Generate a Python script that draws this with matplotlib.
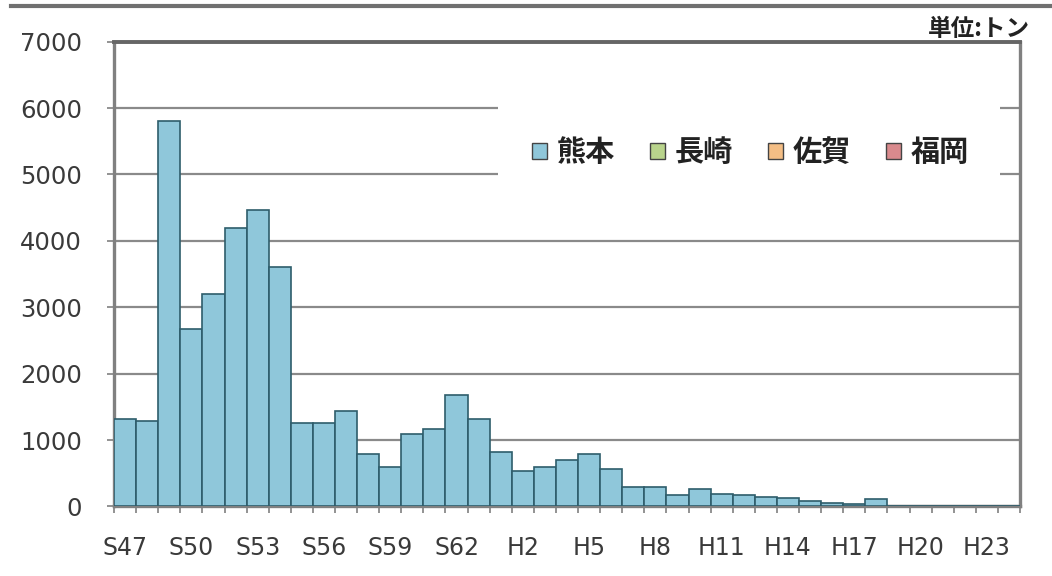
import matplotlib
matplotlib.use("Agg")
import matplotlib.pyplot as plt
from matplotlib.patches import Patch, Rectangle
from matplotlib.lines import Line2D

plt.rcParams['font.family'] = ['DejaVu Sans', 'Noto Sans CJK JP']

# 年度 (S47 〜 H24)
years = (["S%d" % y for y in range(47, 64)] +
         ["H%d" % y for y in range(1, 25)])

# 熊本 (トン)
kumamoto = [1310, 1280, 5810, 2670, 3200, 4190, 4465, 3600, 1253, 1253,
            1438, 791, 600, 1092, 1163, 1684, 1313, 821, 540, 600,
            695, 790, 570, 290, 290, 173, 259, 183, 173, 143,
            133, 83, 48, 40, 108, 0, 0, 0, 0, 0, 0]

prefs = ["熊本", "長崎", "佐賀", "福岡"]
colors = ["#8fc7da", "#b9d48c", "#f4be85", "#d98a8d"]

fig = plt.figure(figsize=(10.52, 5.76), dpi=100)
ax = fig.add_axes([0.1084, 0.1207, 0.8612, 0.8069])

x = list(range(len(years)))
ax.bar(x, kumamoto, width=1.0, color=colors[0], edgecolor="#2e5d6b",
       linewidth=1.2, zorder=3)

ax.set_xlim(-0.5, len(years) - 0.5)
ax.set_ylim(0, 7000)
ax.set_yticks(range(0, 7001, 1000))
ax.yaxis.grid(True, color="#8a8a8a", linewidth=1.6, zorder=0)
ax.set_axisbelow(True)

# ラベルは3年ごと、目盛は棒の境界
ax.set_xticks(x[::3], years[::3])
ax.set_xticks([i - 0.5 for i in range(len(years) + 1)], minor=True)
ax.tick_params(axis="x", which="major", length=0, pad=21,
               labelsize=17, labelcolor="#3a3a3a")
ax.tick_params(axis="x", which="minor", length=5, width=1.2, color="#808080")
ax.tick_params(axis="y", length=5, width=1.2, color="#808080", pad=18,
               labelsize=17.5, labelcolor="#3a3a3a")

for side in ["left", "right", "bottom"]:
    ax.spines[side].set_color("#808080")
    ax.spines[side].set_linewidth(2.4)
ax.spines["top"].set_color("#666666")
ax.spines["top"].set_linewidth(2.8)

# 凡例の背景
ax.add_patch(Rectangle((0.424, 0.66), 0.554, 0.225, transform=ax.transAxes,
                       facecolor="white", edgecolor="none", zorder=1))
handles = [Patch(facecolor=c, edgecolor="#444444", linewidth=1.0) for c in colors]
leg = ax.legend(handles, prefs, loc="center", bbox_to_anchor=(0.7026, 0.762),
                ncol=4, frameon=False, handlelength=0.5, handleheight=0.5,
                handletextpad=0.35, columnspacing=1.2,
                prop={"family": ["Noto Sans CJK JP"], "size": 21,
                      "weight": "bold"})
for t in leg.get_texts():
    t.set_color("#222222")

fig.text(0.979, 0.95, "単位:トン", ha="right", va="center", fontsize=17,
         family=["Noto Sans CJK JP"], weight="bold", color="#222222")

fig.add_artist(Line2D([0.0105, 1.0], [0.9896, 0.9896], color="#707070",
                      linewidth=3.0))

fig.savefig("out.png", dpi=100)
